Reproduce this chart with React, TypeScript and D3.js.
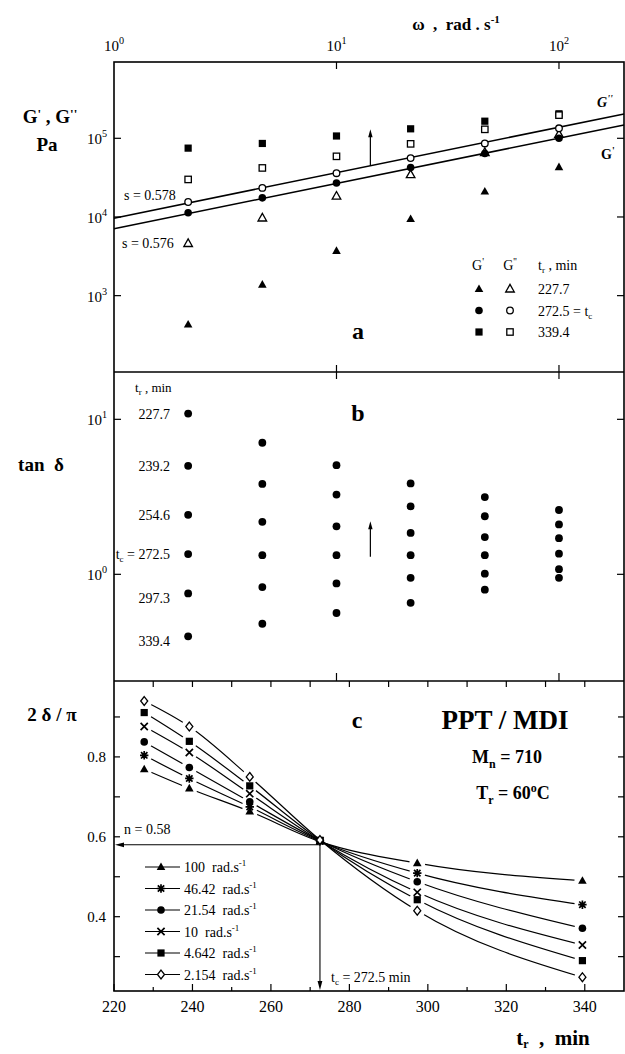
import React from 'react';
import * as d3 from 'd3';

// ---------- data ----------
// angular frequencies of the sweep, rad/s
const omega = [2.154, 4.642, 10, 21.54, 46.42, 100];

// panel a: storage (G') and loss (G'') moduli, Pa, at three cure times
const gp227 = [430, 1380, 3700, 9400, 21000, 43000];
const gpp227 = [4600, 9700, 18400, 34500, 66000, 112000];
const gp272 = [11300, 17500, 27000, 42600, 64000, 100000];
const gpp272 = [15500, 23400, 36000, 56000, 86000, 134000];
const gp339 = [75000, 86000, 107000, 132000, 165000, 205000];
const gpp339 = [30000, 42000, 59000, 85000, 130000, 197000];

// power-law fits at the gel point: log10 G = intercept + s * log10 omega
const fitSlopeGpp = 0.578;
const fitSlopeGp = 0.576;
const fitInterceptGpp = 3.985;
const fitInterceptGp = 3.85;

// panel b: tan delta for each cure time (rows) at each frequency (columns)
const cureLabels = ['227.7', '239.2', '254.6', '272.5', '297.3', '339.4'];
const tanDelta = [
  [10.9, 7.06, 5.06, 3.86, 3.15, 2.6],
  [5.01, 3.83, 3.27, 2.74, 2.37, 2.1],
  [2.42, 2.18, 2.04, 1.85, 1.74, 1.71],
  [1.35, 1.33, 1.33, 1.33, 1.33, 1.36],
  [0.753, 0.828, 0.873, 0.95, 1.01, 1.08],
  [0.398, 0.48, 0.563, 0.655, 0.796, 0.95],
];

// panel c: 2 delta / pi vs cure time for each frequency
const cureTimes = [227.7, 239.2, 254.6, 272.5, 297.3, 339.4];
const freqLabels = ['100', '46.42', '21.54', '10', '4.642', '2.154'];
const phase100 = [0.769, 0.721, 0.6635, 0.588, 0.534, 0.49];
const phase46 = [0.804, 0.746, 0.675, 0.589, 0.509, 0.43];
const phase21 = [0.8375, 0.7735, 0.6875, 0.59, 0.4875, 0.371];
const phase10 = [0.876, 0.811, 0.708, 0.59, 0.461, 0.329];
const phase4 = [0.911, 0.839, 0.7275, 0.591, 0.4425, 0.29];
const phase2 = [0.94, 0.876, 0.75, 0.592, 0.415, 0.2485];

const gelTime = 272.5;
const nValue = 0.58;

// arrows marking the direction of increasing cure time
const arrowOmega = 14.2;
const arrowGTip = 1.3e5;
const arrowTanFrom = 1.3;
const arrowTanTo = 2.2;

// axis ticks
const omegaTicks = [1, 10, 100];
const omegaExp = ['0', '1', '2'];
const modTicks = [1e3, 1e4, 1e5];
const modExp = ['3', '4', '5'];
const tanTicks = [1, 10];
const tanExp = ['0', '1'];
const phaseTicks = [0.3, 0.4, 0.5, 0.6, 0.7, 0.8, 0.9];
const phaseLabelTicks = [0.4, 0.6, 0.8];
const timeTicks = [220, 240, 260, 280, 300, 320, 340];
const timeMinor = [230, 250, 270, 290, 310, 330];
const timeAll = [230, 240, 250, 260, 270, 280, 290, 300, 310, 320, 330, 340];

// ---------- layout ----------
const W = 625;
const H = 1054;
const L = 114;
const R = 624;
const TOP = 62;
const AB = 372;
const BC = 681;
const BOT = 991;

const FONT = "'Liberation Serif', 'Times New Roman', serif";

const xW = d3.scaleLog().domain([1, 196]).range([L, R]);
const yA = d3.scaleLog().domain([107, 9.33e5]).range([AB, TOP]);
const yB = d3.scaleLog().domain([0.205, 20.2]).range([BC, AB]);
const xT = d3.scaleLinear().domain([220, 350]).range([L, R]);
const yC = d3.scaleLinear().domain([0.214, 0.99]).range([BOT, BC]);

type Kind =
  | 'triF'
  | 'triO'
  | 'cirF'
  | 'cirO'
  | 'sqF'
  | 'sqO'
  | 'diaO'
  | 'times'
  | 'aster';

function Marker({ kind, x, y }: { kind: Kind; x: number; y: number }) {
  const sw = 1.3;
  switch (kind) {
    case 'triF':
    case 'triO': {
      const p = d3.path();
      p.moveTo(x, y - 4.6);
      p.lineTo(x + 4.3, y + 3.0);
      p.lineTo(x - 4.3, y + 3.0);
      p.closePath();
      return kind === 'triF' ? (
        <path d={p.toString()} fill="#000" />
      ) : (
        <path d={p.toString()} fill="#fff" stroke="#000" strokeWidth={sw} />
      );
    }
    case 'cirF':
      return <circle cx={x} cy={y} r={3.8} fill="#000" />;
    case 'cirO':
      return <circle cx={x} cy={y} r={3.3} fill="#fff" stroke="#000" strokeWidth={sw} />;
    case 'sqF':
      return <rect x={x - 3.6} y={y - 3.6} width={7.2} height={7.2} fill="#000" />;
    case 'sqO':
      return (
        <rect x={x - 3.2} y={y - 3.2} width={6.4} height={6.4} fill="#fff" stroke="#000" strokeWidth={sw} />
      );
    case 'diaO': {
      const p = d3.path();
      p.moveTo(x, y - 4.4);
      p.lineTo(x + 3.5, y);
      p.lineTo(x, y + 4.4);
      p.lineTo(x - 3.5, y);
      p.closePath();
      return <path d={p.toString()} fill="#fff" stroke="#000" strokeWidth={sw} />;
    }
    case 'times': {
      const p = d3.path();
      const h = 3.6;
      p.moveTo(x - h, y - h);
      p.lineTo(x + h, y + h);
      p.moveTo(x + h, y - h);
      p.lineTo(x - h, y + h);
      return <path d={p.toString()} stroke="#000" strokeWidth={1.7} fill="none" />;
    }
    case 'aster': {
      const p = d3.path();
      const h = 4.2;
      const d = 3.2;
      p.moveTo(x - h, y);
      p.lineTo(x + h, y);
      p.moveTo(x, y - h);
      p.lineTo(x, y + h);
      p.moveTo(x - d, y - d);
      p.lineTo(x + d, y + d);
      p.moveTo(x + d, y - d);
      p.lineTo(x - d, y + d);
      return <path d={p.toString()} stroke="#000" strokeWidth={1.7} fill="none" />;
    }
  }
  return null;
}

function Pow({ x, y, base, exp, anchor = 'end', size = 15 }: any) {
  return (
    <text x={x} y={y} fontSize={size} textAnchor={anchor} fontFamily={FONT}>
      {base}
      <tspan dy={-7} fontSize={size * 0.68}>
        {exp}
      </tspan>
    </text>
  );
}

function arrowHead(tx: number, ty: number, dir: 'up' | 'down' | 'left', len = 8, half = 2.6) {
  const p = d3.path();
  p.moveTo(tx, ty);
  if (dir === 'up') {
    p.lineTo(tx - half, ty + len);
    p.lineTo(tx + half, ty + len);
  } else if (dir === 'down') {
    p.lineTo(tx - half, ty - len);
    p.lineTo(tx + half, ty - len);
  } else {
    p.lineTo(tx + len, ty - half);
    p.lineTo(tx + len, ty + half);
  }
  p.closePath();
  return p.toString();
}

const PRE = { whiteSpace: 'pre' as const };

export default function App() {
  const phaseSeries = [phase100, phase46, phase21, phase10, phase4, phase2];
  const phaseKinds: Kind[] = ['triF', 'aster', 'cirF', 'times', 'sqF', 'diaO'];

  const fitLine = (icpt: number, s: number) => {
    const [w0, w1] = xW.domain();
    return d3
      .line<number>()
      .x((w) => xW(w))
      .y((w) => yA(Math.pow(10, icpt + s * Math.log10(w))))([w0, w1]) as string;
  };

  const phaseLine = d3
    .line<number>()
    .x((_, i) => xT(cureTimes[i]))
    .y((v) => yC(v))
    .curve(d3.curveMonotoneX);

  const ax = xW(arrowOmega);
  const ayFrom = yA(Math.pow(10, fitInterceptGpp + fitSlopeGpp * Math.log10(arrowOmega)));
  const ayTip = yA(arrowGTip);
  const bx = xW(arrowOmega);
  const byFrom = yB(arrowTanFrom);
  const byTip = yB(arrowTanTo);

  const gx = xT(gelTime);
  const ny = yC(nValue);

  const legendA: [Kind, Kind, string, string | null][] = [
    ['triF', 'triO', '227.7', null],
    ['cirF', 'cirO', '272.5 = t', 'c'],
    ['sqF', 'sqO', '339.4', null],
  ];

  return (
    <svg
      width={W}
      height={H}
      viewBox={`0 0 ${W} ${H}`}
      style={{ position: 'absolute', left: 0, top: 0, background: '#fff' }}
      fontFamily={FONT}
    >
      <rect x={0} y={0} width={W} height={H} fill="#fff" />
      <defs>
        {phaseSeries.map((ser, si) => (
          <mask id={`gap${si}`} key={si} maskUnits="userSpaceOnUse" x={0} y={0} width={W} height={H}>
            <rect x={0} y={0} width={W} height={H} fill="#fff" />
            {ser.map((v, i) =>
              cureTimes[i] === gelTime ? null : (
                <circle key={i} cx={xT(cureTimes[i])} cy={yC(v)} r={8} fill="#000" />
              )
            )}
          </mask>
        ))}
      </defs>

      {/* ---- frequency axis title and labels (top) ---- */}
      <text x={456} y={30} fontSize={17} fontWeight="bold" textAnchor="middle" style={PRE}>
        {'ω  ,  rad . s'}
        <tspan dy={-7} fontSize={11}>
          -1
        </tspan>
      </text>
      {omegaTicks.map((t, i) => (
        <Pow key={t} x={xW(t)} y={51} base="10" exp={omegaExp[i]} anchor="middle" size={15} />
      ))}

      {/* ---- frame ---- */}
      <rect x={L} y={TOP} width={R - L} height={BOT - TOP} fill="none" stroke="#000" strokeWidth={1.6} />
      <line x1={L} x2={R} y1={AB} y2={AB} stroke="#000" strokeWidth={1.6} />
      <line x1={L} x2={R} y1={BC} y2={BC} stroke="#000" strokeWidth={1.6} />

      {/* frequency ticks */}
      {omegaTicks.slice(1).map((t) => (
        <g key={t} stroke="#000" strokeWidth={1.2}>
          <line x1={xW(t)} x2={xW(t)} y1={TOP} y2={TOP + 7} />
          <line x1={xW(t)} x2={xW(t)} y1={AB - 7} y2={AB + 7} />
          <line x1={xW(t)} x2={xW(t)} y1={BC - 8} y2={BC} />
        </g>
      ))}

      {/* ---- panel a ---- */}
      {modTicks.map((t, i) => (
        <g key={t}>
          <line x1={L} x2={L + 7} y1={yA(t)} y2={yA(t)} stroke="#000" strokeWidth={1.2} />
          <line x1={R - 7} x2={R} y1={yA(t)} y2={yA(t)} stroke="#000" strokeWidth={1.2} />
          <Pow x={107} y={yA(t) + 6} base="10" exp={modExp[i]} />
        </g>
      ))}
      <text x={50} y={123} fontSize={19} fontWeight="bold" textAnchor="middle" style={PRE}>
        G
        <tspan dy={-5} fontSize={13}>
          '
        </tspan>
        <tspan dy={5}>{' , G'}</tspan>
        <tspan dy={-5} fontSize={13}>
          ''
        </tspan>
      </text>
      <text x={47} y={151} fontSize={19} fontWeight="bold" textAnchor="middle">
        Pa
      </text>

      <path d={fitLine(fitInterceptGpp, fitSlopeGpp)} stroke="#000" strokeWidth={1.5} fill="none" />
      <path d={fitLine(fitInterceptGp, fitSlopeGp)} stroke="#000" strokeWidth={1.5} fill="none" />
      <text x={124} y={200} fontSize={14}>
        s = 0.578
      </text>
      <text x={122} y={248} fontSize={14}>
        s = 0.576
      </text>
      <text x={597} y={107} fontSize={14} fontWeight="bold" fontStyle="italic">
        G
        <tspan dy={-5} fontSize={10}>
          ''
        </tspan>
      </text>
      <text x={601} y={159} fontSize={14} fontWeight="bold">
        G
        <tspan dy={-5} fontSize={10}>
          '
        </tspan>
      </text>

      {omega.map((w, i) => (
        <g key={w}>
          <Marker kind="triO" x={xW(w)} y={yA(gpp227[i])} />
          <Marker kind="triF" x={xW(w)} y={yA(gp227[i])} />
          <Marker kind="cirO" x={xW(w)} y={yA(gpp272[i])} />
          <Marker kind="cirF" x={xW(w)} y={yA(gp272[i])} />
          <Marker kind="sqF" x={xW(w)} y={yA(gp339[i])} />
          <Marker kind="sqO" x={xW(w)} y={yA(gpp339[i])} />
        </g>
      ))}

      <line x1={ax} x2={ax} y1={ayFrom} y2={ayTip + 6} stroke="#000" strokeWidth={1.2} />
      <path d={arrowHead(ax, ayTip, 'up', 8, 2.2)} fill="#000" />

      <text x={358} y={339} fontSize={24} fontWeight="bold" textAnchor="middle">
        a
      </text>

      {/* legend a */}
      <text x={478} y={270} fontSize={14} textAnchor="middle">
        G
        <tspan dy={-5} fontSize={10}>
          '
        </tspan>
      </text>
      <text x={510} y={270} fontSize={14} textAnchor="middle">
        G
        <tspan dy={-5} fontSize={10}>
          ''
        </tspan>
      </text>
      <text x={538} y={270} fontSize={14} style={PRE}>
        t
        <tspan dy={3} fontSize={9}>
          r
        </tspan>
        <tspan dy={-3}>{' , min'}</tspan>
      </text>
      {legendA.map(([kf, ko, lab, sub], i) => {
        const y = 289 + i * 21.5;
        return (
          <g key={lab}>
            <Marker kind={kf} x={479} y={y} />
            <Marker kind={ko} x={510} y={y} />
            <text x={538} y={y + 5} fontSize={14}>
              {lab}
              {sub && (
                <tspan dy={3} fontSize={9}>
                  {sub}
                </tspan>
              )}
            </text>
          </g>
        );
      })}

      {/* ---- panel b ---- */}
      {tanTicks.map((t, i) => (
        <g key={t}>
          <line x1={L} x2={L + 7} y1={yB(t)} y2={yB(t)} stroke="#000" strokeWidth={1.2} />
          <line x1={R - 7} x2={R} y1={yB(t)} y2={yB(t)} stroke="#000" strokeWidth={1.2} />
          <Pow x={107} y={yB(t) + 6} base="10" exp={tanExp[i]} />
        </g>
      ))}
      <text x={41} y={471} fontSize={19} fontWeight="bold" textAnchor="middle" style={PRE}>
        {'tan  δ'}
      </text>
      <text x={135} y={392} fontSize={13} style={PRE}>
        t
        <tspan dy={3} fontSize={9}>
          r
        </tspan>
        <tspan dy={-3}>{' , min'}</tspan>
      </text>
      {cureLabels.map((lab, r) => {
        const y = yB(tanDelta[r][0]);
        const dy = r >= 4 ? 10 : 5;
        return r === 3 ? (
          <text key={lab} x={170} y={y + 5} fontSize={14} textAnchor="end">
            t
            <tspan dy={3} fontSize={9}>
              c
            </tspan>
            <tspan dy={-3}> = {lab}</tspan>
          </text>
        ) : (
          <text key={lab} x={170} y={y + dy} fontSize={14} textAnchor="end">
            {lab}
          </text>
        );
      })}
      {tanDelta.map((row, r) =>
        row.map((v, i) => <circle key={`${r}-${i}`} cx={xW(omega[i])} cy={yB(v)} r={3.9} fill="#000" />)
      )}
      <line x1={bx} x2={bx} y1={byFrom} y2={byTip + 6} stroke="#000" strokeWidth={1.2} />
      <path d={arrowHead(bx, byTip, 'up', 8, 2.2)} fill="#000" />
      <text x={358} y={421} fontSize={24} fontWeight="bold" textAnchor="middle">
        b
      </text>

      {/* ---- panel c ---- */}
      {phaseTicks.map((t) => (
        <g key={t}>
          <line x1={L} x2={L + 6} y1={yC(t)} y2={yC(t)} stroke="#000" strokeWidth={1.2} />
          <line x1={R - 6} x2={R} y1={yC(t)} y2={yC(t)} stroke="#000" strokeWidth={1.2} />
        </g>
      ))}
      {phaseLabelTicks.map((t) => (
        <text key={t} x={106} y={yC(t) + 5} fontSize={15} textAnchor="end">
          {t.toFixed(1)}
        </text>
      ))}
      {timeAll.map((t) => (
        <line key={t} x1={xT(t)} x2={xT(t)} y1={BC} y2={BC + 6} stroke="#000" strokeWidth={1.2} />
      ))}
      {timeTicks.map((t) => (
        <g key={t}>
          <line x1={xT(t)} x2={xT(t)} y1={BOT - 7} y2={BOT} stroke="#000" strokeWidth={1.2} />
          <text x={xT(t)} y={1012} fontSize={16} textAnchor="middle">
            {t}
          </text>
        </g>
      ))}
      {timeMinor.map((t) => (
        <line key={t} x1={xT(t)} x2={xT(t)} y1={BOT - 4} y2={BOT} stroke="#000" strokeWidth={1.2} />
      ))}
      <text x={553} y={1045} fontSize={21} fontWeight="bold" textAnchor="middle" style={PRE}>
        t
        <tspan dy={3} fontSize={12}>
          r
        </tspan>
        <tspan dy={-3}>{'  ,  min'}</tspan>
      </text>
      <text x={52} y={721} fontSize={19} fontWeight="bold" textAnchor="middle" style={PRE}>
        {'2 δ / π'}
      </text>

      {phaseSeries.map((ser, si) => (
        <path
          key={si}
          d={phaseLine(ser) as string}
          stroke="#000"
          strokeWidth={1.2}
          fill="none"
          mask={`url(#gap${si})`}
        />
      ))}

      {/* gel point guides */}
      <line x1={gx} x2={L + 7} y1={ny} y2={ny} stroke="#000" strokeWidth={1.1} />
      <path d={arrowHead(L + 1, ny, 'left', 9, 2.4)} fill="#000" />
      <line x1={gx} x2={gx} y1={ny} y2={BOT - 7} stroke="#000" strokeWidth={1.1} />
      <path d={arrowHead(gx, BOT - 1, 'down', 9, 2.4)} fill="#000" />

      {phaseSeries.map((ser, si) =>
        ser.map((v, i) => <Marker key={`${si}-${i}`} kind={phaseKinds[si]} x={xT(cureTimes[i])} y={yC(v)} />)
      )}

      <text x={124} y={834} fontSize={14}>
        n = 0.58
      </text>
      <text x={331} y={982} fontSize={14}>
        t
        <tspan dy={3} fontSize={9}>
          c
        </tspan>
        <tspan dy={-3}> = 272.5 min</tspan>
      </text>

      <text x={357} y={728} fontSize={24} fontWeight="bold" textAnchor="middle">
        c
      </text>
      <text x={505} y={729} fontSize={27} fontWeight="bold" textAnchor="middle">
        PPT / MDI
      </text>
      <text x={507} y={763} fontSize={18} fontWeight="bold" textAnchor="middle">
        M
        <tspan dy={5} fontSize={12}>
          n
        </tspan>
        <tspan dy={-5}> = 710</tspan>
      </text>
      <text x={513} y={799} fontSize={18} fontWeight="bold" textAnchor="middle">
        T
        <tspan dy={5} fontSize={12}>
          r
        </tspan>
        <tspan dy={-5}> = 60</tspan>
        <tspan dy={-7} fontSize={12}>
          o
        </tspan>
        <tspan dy={7}>C</tspan>
      </text>

      {/* legend c */}
      {freqLabels.map((lab, i) => {
        const y = 867 + i * 21.5;
        return (
          <g key={lab}>
            <line x1={145} x2={180} y1={y} y2={y} stroke="#000" strokeWidth={1.2} />
            <Marker kind={phaseKinds[i]} x={161} y={y} />
            <text x={184} y={y + 5} fontSize={14} style={PRE}>
              {`${lab}  rad.s`}
              <tspan dy={-6} fontSize={9}>
                -1
              </tspan>
            </text>
          </g>
        );
      })}
    </svg>
  );
}
